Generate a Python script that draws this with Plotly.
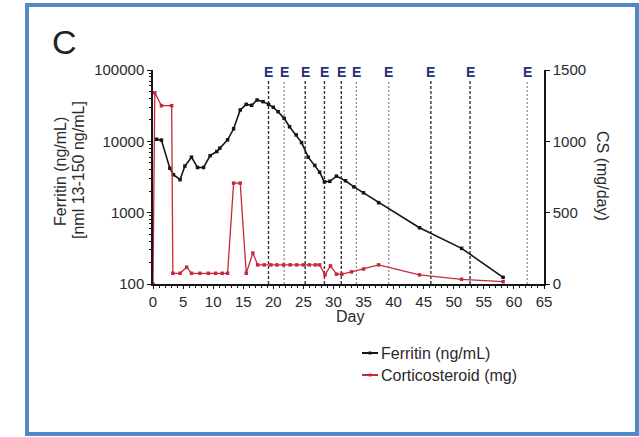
import plotly.graph_objects as go

# Ferritin (ng/mL) by day
ferritin_day = [0.6, 1.4, 2.8, 3.4, 4.5, 5.3, 6.4, 7.4, 8.4, 9.5, 10.6, 11.1, 12.4, 13.4,
                14.5, 15.5, 16.4, 17.3, 18.3, 19.2, 20.0, 20.8, 21.8, 22.7, 23.8, 24.7,
                25.8, 26.9, 27.7, 28.5, 29.4, 30.5, 32.0, 33.4, 35.0, 37.5, 44.3, 51.3, 58.2]
ferritin_val = [10700, 10400, 4200, 3400, 2900, 4500, 6000, 4300, 4300, 6300, 7200, 8000,
                10500, 15000, 27500, 33000, 32000, 38000, 36000, 33000, 30000, 26000, 21000,
                16000, 12300, 9600, 6000, 4600, 3700, 2700, 2750, 3250, 2800, 2300, 1900,
                1380, 615, 316, 124]

# Corticosteroid dose (mg/day) by day
cs_day = [0, 0.3, 1.4, 3.1, 3.3, 4.5, 5.6, 6.4, 7.8, 9.2, 10.4, 11.5, 12.4, 13.4, 14.5,
          15.5, 16.6, 17.4, 18.5, 19.6, 20.6, 21.7, 22.8, 23.9, 25.0, 26.0, 27.0, 27.7,
          28.6, 29.5, 30.5, 31.4, 33.0, 35.0, 37.5, 44.3, 51.3, 58.2]
cs_val = [0, 1340, 1250, 1250, 75, 75, 118, 75, 75, 75, 75, 75, 75, 707, 707, 75, 217,
          134, 134, 134, 134, 134, 134, 134, 134, 134, 134, 134, 64, 127, 69, 69, 85, 105,
          134, 64, 33, 16]

# Days marked "E"
e_days = [19.2, 21.8, 25.3, 28.5, 31.3, 33.8, 39.2, 46.2, 52.7, 62.2]
e_heavy = [True, False, True, True, True, False, False, True, True, False]

W, H = 639, 437
L, R, T, B = 153, 544, 70, 284


def px(x):
    return (x - L) / (R - L)


def py(y):
    return (B - y) / (B - T)


FONT = "Liberation Sans, Arial, sans-serif"
BLACK = "#151515"
RED = "#c8283c"
NAVY = "#25307a"
TXT = "#2a2a2a"

fig = go.Figure()
fig.add_trace(go.Scatter(
    x=cs_day, y=cs_val, yaxis="y2", mode="lines+markers",
    line=dict(color=RED, width=1.3),
    marker=dict(symbol="square", size=3.5, color=RED),
    name="Corticosteroid (mg)", showlegend=False))
fig.add_trace(go.Scatter(
    x=ferritin_day, y=ferritin_val, mode="lines+markers",
    line=dict(color=BLACK, width=1.6),
    marker=dict(symbol="square", size=3.5, color=BLACK),
    name="Ferritin (ng/mL)", showlegend=False))

shapes = []
annotations = []
for d, heavy in zip(e_days, e_heavy):
    shapes.append(dict(
        type="line", xref="x", yref="paper", x0=d, x1=d, y0=0, y1=py(80),
        line=dict(color="#333344" if heavy else "#6a6a78",
                  width=1.4 if heavy else 1.0,
                  dash="3px,2px" if heavy else "2px,2px"),
        layer="below"))
    annotations.append(dict(
        x=d, y=py(72), xref="x", yref="paper", text="<b>E</b>", showarrow=False,
        xanchor="center", yanchor="middle",
        font=dict(family=FONT, size=14, color=NAVY)))

# outer blue frame
shapes.append(dict(
    type="rect", xref="paper", yref="paper",
    x0=px(27), x1=px(637), y0=py(5), y1=py(434),
    line=dict(color="#5188c9", width=4), fillcolor="rgba(0,0,0,0)"))

# legend entries
for yy, col, label in [(353, BLACK, "Ferritin (ng/mL)"), (375, RED, "Corticosteroid (mg)")]:
    shapes.append(dict(type="line", xref="paper", yref="paper",
                       x0=px(362), x1=px(378), y0=py(yy), y1=py(yy),
                       line=dict(color=col, width=2)))
    shapes.append(dict(type="rect", xref="paper", yref="paper",
                       x0=px(368.5), x1=px(371.5), y0=py(yy + 1.5), y1=py(yy - 1.5),
                       line=dict(color=col, width=0), fillcolor=col))
    annotations.append(dict(
        x=px(379), y=py(yy), xref="paper", yref="paper", text=label,
        showarrow=False, xanchor="left", yanchor="middle",
        font=dict(family=FONT, size=16, color=TXT)))

annotations += [
    dict(x=px(64), y=py(42), xref="paper", yref="paper", text="C", showarrow=False,
         xanchor="center", yanchor="middle",
         font=dict(family=FONT, size=34, color="#222")),
    dict(x=px(60), y=py(172), xref="paper", yref="paper", text="Ferritin (ng/mL)",
         textangle=-90, showarrow=False, xanchor="center", yanchor="middle",
         font=dict(family=FONT, size=16, color=TXT)),
    dict(x=px(78), y=py(170), xref="paper", yref="paper", text="[nml 13-150 ng/mL]",
         textangle=-90, showarrow=False, xanchor="center", yanchor="middle",
         font=dict(family=FONT, size=16, color=TXT)),
    dict(x=px(603), y=py(176), xref="paper", yref="paper", text="CS (mg/day)",
         textangle=90, showarrow=False, xanchor="center", yanchor="middle",
         font=dict(family=FONT, size=16, color=TXT)),
    dict(x=px(350), y=py(316), xref="paper", yref="paper", text="Day",
         showarrow=False, xanchor="center", yanchor="middle",
         font=dict(family=FONT, size=16, color=TXT)),
]

fig.update_layout(
    width=W, height=H,
    margin=dict(l=L, r=W - R, t=T, b=H - B, pad=0),
    paper_bgcolor="white", plot_bgcolor="white",
    font=dict(family=FONT, size=13, color=TXT),
    showlegend=False,
    shapes=shapes, annotations=annotations,
    xaxis=dict(range=[0, 65], tickvals=list(range(0, 70, 5)),
               showgrid=False, zeroline=False, showline=True,
               linecolor=BLACK, linewidth=1.5, ticks="outside", ticklen=3,
               tickcolor=BLACK, tickwidth=1.2,
               minor=dict(dtick=1, ticks="outside", ticklen=2.5, tickcolor=BLACK),
               tickfont=dict(size=15, color=TXT)),
    yaxis=dict(type="log", range=[2, 5],
               tickvals=[100, 1000, 10000, 100000],
               ticktext=["100", "1000", "10000", "100000"],
               showgrid=False, zeroline=False, showline=True,
               linecolor=BLACK, linewidth=1.5, ticks="outside", ticklen=4,
               tickcolor=BLACK, tickwidth=1.2,
               minor=dict(dtick="D1", ticks="outside", ticklen=2.5, tickcolor=BLACK,
                          showgrid=False),
               tickfont=dict(size=15, color=TXT)),
    yaxis2=dict(range=[0, 1500], tickvals=[0, 500, 1000, 1500], overlaying="y",
                side="right", showgrid=False, zeroline=False, showline=True,
                linecolor=BLACK, linewidth=1.5, ticks="outside", ticklen=4,
                tickcolor=BLACK, tickwidth=1.2,
                tickfont=dict(size=15, color=TXT)),
)

fig.write_html("out.html")
